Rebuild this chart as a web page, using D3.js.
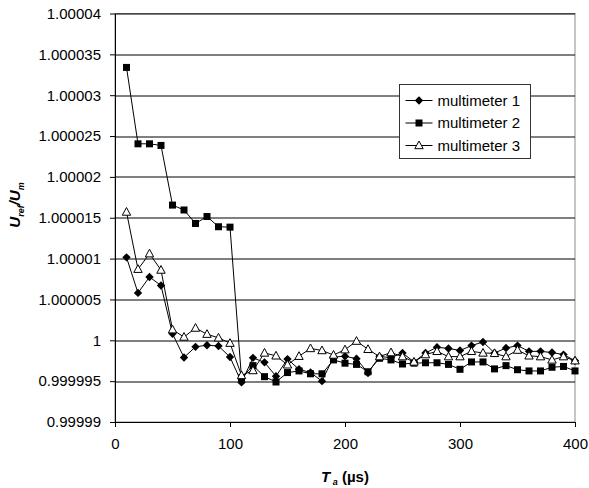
<!DOCTYPE html>
<html>
<head>
<meta charset="utf-8">
<script src="https://cdn.jsdelivr.net/npm/d3@7"></script>
<style>
  body { margin: 0; background: #fff; }
  svg { font-family: "Liberation Sans", Arial, sans-serif; }
  .axis text { font-size: 15px; fill: #000; }
  .axis path, .axis line { stroke: #000; }
</style>
</head>
<body>
<svg id="chart"></svg>
<script>
// Acquisition time T_a (µs)
const times = [10, 20, 30, 40, 50, 60, 70, 80, 90, 100,
  110, 120, 130, 140, 150, 160, 170, 180, 190, 200,
  210, 220, 230, 240, 250, 260, 270, 280, 290, 300,
  310, 320, 330, 340, 350, 360, 370, 380, 390, 400];

// U_ref / U_m ratios per multimeter
const multimeter1 = [1.00001015, 1.0000058, 1.00000775, 1.0000067, 1.0000008, 0.9999979, 0.9999992, 0.9999994, 0.9999993, 0.99999795,
  0.99999485, 0.99999785, 0.9999973, 0.9999956, 0.9999977, 0.99999645, 0.99999605, 0.999995, 0.99999795, 0.99999805,
  0.99999775, 0.999996, 0.999998, 0.9999979, 0.99999845, 0.99999735, 0.99999845, 0.99999915, 0.999999, 0.99999875,
  0.99999935, 0.9999998, 0.99999845, 0.99999905, 0.99999935, 0.99999865, 0.99999865, 0.9999985, 0.99999825, 0.9999975];

const multimeter2 = [1.0000334, 1.00002405, 1.00002405, 1.00002385, 1.00001655, 1.00001595, 1.0000143, 1.00001515, 1.0000139, 1.00001385,
  0.9999954, 0.9999969, 0.99999555, 0.9999949, 0.99999605, 0.99999625, 0.9999959, 0.9999959, 0.9999976, 0.9999972,
  0.99999705, 0.99999615, 0.9999978, 0.9999976, 0.9999971, 0.9999972, 0.99999725, 0.99999725, 0.99999705, 0.99999645,
  0.99999735, 0.99999735, 0.9999965, 0.9999969, 0.9999964, 0.99999625, 0.99999625, 0.9999967, 0.9999968, 0.99999625];

const multimeter3 = [1.0000157, 1.0000087, 1.0000106, 1.0000086, 1.0000013, 1.0000004, 1.0000015, 1.00000075, 1.0000003, 0.99999965,
  0.9999957, 0.9999963, 0.99999845, 0.9999981, 0.999997, 0.99999805, 0.999999, 0.99999875, 0.9999982, 0.99999885,
  0.9999999, 0.9999989, 0.999998, 0.9999985, 0.999998, 0.99999735, 0.99999825, 0.99999865, 0.999998, 0.999998,
  0.99999865, 0.99999845, 0.9999984, 0.999998, 0.9999988, 0.9999981, 0.999998, 0.9999976, 0.999998, 0.9999975];

const seriesNames = ["multimeter 1", "multimeter 2", "multimeter 3"];
const markerTypes = ["diamond", "square", "triangle"];

const xTicks = [0, 100, 200, 300, 400];
const yTicks = [0.99999, 0.999995, 1, 1.000005, 1.00001, 1.000015, 1.00002, 1.000025, 1.00003, 1.000035, 1.00004];
const yTickLabels = ["0.99999", "0.999995", "1", "1.000005", "1.00001", "1.000015", "1.00002", "1.000025", "1.00003", "1.000035", "1.00004"];

class LineChart {
  constructor(_config, _data) {
    this.config = {
      parentElement: _config.parentElement,
      containerWidth: _config.containerWidth || 589,
      containerHeight: _config.containerHeight || 488,
      margin: _config.margin || { top: 13.5, right: 14, bottom: 66, left: 115 },
    };
    this.data = _data;
    this.initVis();
  }

  initVis() {
    let vis = this;

    vis.width = vis.config.containerWidth - vis.config.margin.left - vis.config.margin.right;
    vis.height = vis.config.containerHeight - vis.config.margin.top - vis.config.margin.bottom;

    vis.xScale = d3.scaleLinear().domain([0, 400]).range([0, vis.width]);
    vis.yScale = d3.scaleLinear().domain([0.99999, 1.00004]).range([vis.height, 0]);

    vis.xAxis = d3.axisBottom(vis.xScale).tickValues(xTicks).tickSize(5).tickSizeOuter(0).tickPadding(11);
    vis.yAxis = d3.axisLeft(vis.yScale).tickValues(yTicks).tickSize(5).tickSizeOuter(0).tickPadding(9)
      .tickFormat((d, i) => yTickLabels[i]);

    vis.svg = d3.select(vis.config.parentElement)
      .attr("width", vis.config.containerWidth)
      .attr("height", vis.config.containerHeight);

    vis.chart = vis.svg.append("g")
      .attr("transform", `translate(${vis.config.margin.left},${vis.config.margin.top})`);

    // plot area border (grey on top and right)
    vis.chart.append("rect")
      .attr("width", vis.width)
      .attr("height", vis.height)
      .attr("fill", "none")
      .attr("stroke", "#8c8c8c");

    // horizontal gridlines
    vis.chart.append("g").selectAll("line")
      .data(yTicks.slice(1))
      .join("line")
      .attr("x1", 0)
      .attr("x2", vis.width)
      .attr("y1", d => Math.round(vis.yScale(d)) + 0.5)
      .attr("y2", d => Math.round(vis.yScale(d)) + 0.5)
      .attr("stroke", "#000")
      .attr("stroke-width", 1);

    vis.xAxisG = vis.chart.append("g")
      .attr("class", "axis x-axis")
      .attr("transform", `translate(0,${vis.height})`);

    vis.yAxisG = vis.chart.append("g").attr("class", "axis y-axis");
  }

  updateVis() {
    let vis = this;
    vis.series = vis.data.map((values, i) => ({
      name: seriesNames[i],
      marker: markerTypes[i],
      points: values.map((v, j) => ({ x: times[j], y: v })),
    }));
    vis.renderVis();
  }

  drawMarker(sel, type) {
    if (type === "diamond") {
      sel.append("path").attr("d", "M0,-4.2L4.2,0L0,4.2L-4.2,0Z").attr("fill", "#000");
    } else if (type === "square") {
      sel.append("rect").attr("x", -3.5).attr("y", -3.5).attr("width", 7).attr("height", 7).attr("fill", "#000");
    } else {
      sel.append("path").attr("d", "M0,-4.5L4.2,3.2L-4.2,3.2Z").attr("fill", "#fff").attr("stroke", "#000").attr("stroke-width", 1);
    }
  }

  renderVis() {
    let vis = this;

    vis.xAxisG.call(vis.xAxis);
    vis.yAxisG.call(vis.yAxis);

    const line = d3.line().x(d => vis.xScale(d.x)).y(d => vis.yScale(d.y));

    const groups = vis.chart.selectAll(".series")
      .data(vis.series)
      .join("g")
      .attr("class", "series");

    groups.append("path")
      .attr("d", d => line(d.points))
      .attr("fill", "none")
      .attr("stroke", "#000")
      .attr("stroke-width", 1);

    groups.each(function (s) {
      d3.select(this).selectAll(".marker")
        .data(s.points)
        .join("g")
        .attr("class", "marker")
        .attr("transform", d => `translate(${vis.xScale(d.x)},${vis.yScale(d.y)})`)
        .each(function () { vis.drawMarker(d3.select(this), s.marker); });
    });

    // Legend
    const legend = vis.svg.append("g").attr("transform", "translate(399.5,84.5)");
    legend.append("rect")
      .attr("width", 131)
      .attr("height", 74)
      .attr("fill", "#fff")
      .attr("stroke", "#333");

    const items = legend.selectAll(".item")
      .data(vis.series)
      .join("g")
      .attr("class", "item")
      .attr("transform", (d, i) => `translate(0,${16 + i * 22.5})`);

    items.append("line")
      .attr("x1", 6).attr("x2", 33)
      .attr("stroke", "#000");
    items.append("g")
      .attr("transform", "translate(19.5,0)")
      .each(function (d) { vis.drawMarker(d3.select(this), d.marker); });
    items.append("text")
      .attr("x", 38)
      .attr("dy", "0.35em")
      .style("font-size", "15px")
      .text(d => d.name);

    // y-axis title
    const yTitle = vis.svg.append("text")
      .attr("transform", "translate(20,205) rotate(-90)")
      .style("text-anchor", "middle")
      .style("font-size", "15px")
      .style("font-weight", "bold")
      .style("font-style", "italic");
    yTitle.append("tspan").text("U");
    yTitle.append("tspan").attr("dy", 4).style("font-size", "9px").text("ref");
    yTitle.append("tspan").attr("dy", -4).text("/U");
    yTitle.append("tspan").attr("dy", 4).style("font-size", "9px").text("m");

    // x-axis title
    const xTitle = vis.svg.append("text")
      .attr("x", vis.config.margin.left + vis.width / 2)
      .attr("y", 482)
      .style("text-anchor", "middle")
      .style("font-size", "15px")
      .style("font-weight", "bold");
    xTitle.append("tspan").style("font-style", "italic").text("T");
    xTitle.append("tspan").attr("dy", 3).style("font-style", "italic").style("font-size", "9px").text(" a");
    xTitle.append("tspan").attr("dy", -3).text(" (µs)");
  }
}

const chart = new LineChart({ parentElement: "#chart" }, [multimeter1, multimeter2, multimeter3]);
chart.updateVis();
</script>
</body>
</html>
